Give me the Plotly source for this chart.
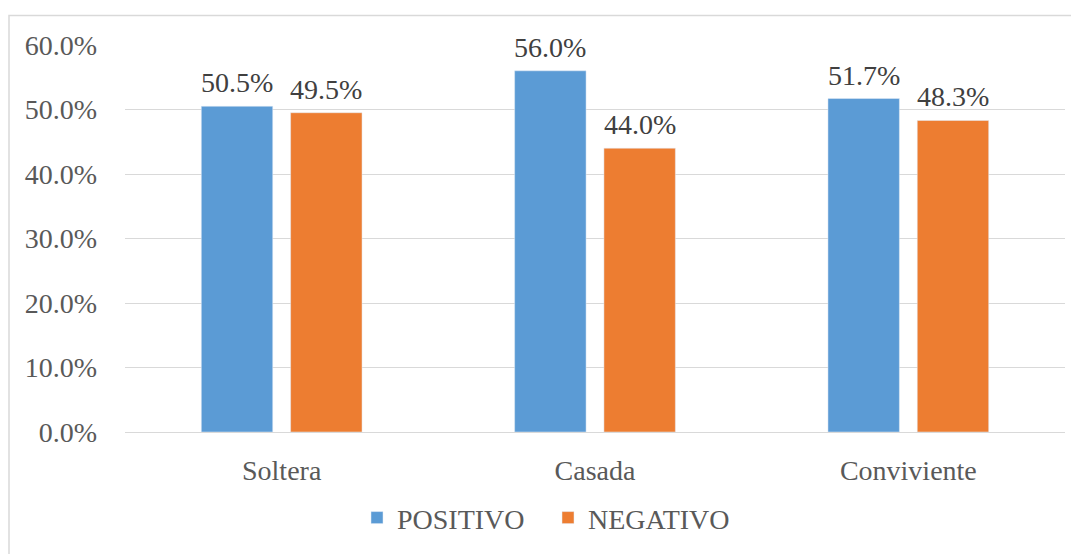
import plotly.graph_objects as go

categories = ["Soltera", "Casada", "Conviviente"]
positivo = [50.5, 56.0, 51.7]
negativo = [49.5, 44.0, 48.3]
series_names = ["POSITIVO", "NEGATIVO"]
y_ticks = [0, 10, 20, 30, 40, 50, 60]
y_tick_labels = ["0.0%", "10.0%", "20.0%", "30.0%", "40.0%", "50.0%", "60.0%"]

FONT = "Liberation Serif"
TXT = "#595959"
BLUE = "#5B9BD5"
ORANGE = "#ED7D31"

# page body has an 8px margin; layout below is expressed in page coords
OFF = 8
W, H = 1079, 554
L, T = 125 - OFF, 44.5 - OFF
R = W - (1065 - OFF)
B = H - (432 - OFF)
plot_w = W - L - R
plot_h = H - T - B


def px_to_paper_x(img_x):
    return (img_x - OFF - L) / plot_w


def px_to_paper_y(img_y):
    return (H - B - (img_y - OFF)) / plot_h


fig = go.Figure()
fig.add_trace(go.Bar(x=categories, y=positivo, name=series_names[0], marker_color=BLUE))
fig.add_trace(go.Bar(x=categories, y=negativo, name=series_names[1], marker_color=ORANGE))

cat_w = plot_w / len(categories)
bargap = 0.43
slot = cat_w * (1 - bargap) / 2
for vals, sign in ((positivo, -1), (negativo, 1)):
    for c, v in zip(categories, vals):
        fig.add_annotation(x=c, y=v, text=f"{v:.1f}%", showarrow=False,
                           xanchor="center", yanchor="bottom",
                           xshift=sign * slot / 2, yshift=6,
                           font=dict(family=FONT, size=28, color="#404040"))

fig.add_shape(type="rect", xref="paper", yref="paper",
              x0=px_to_paper_x(OFF + 1), x1=px_to_paper_x(W + 20),
              y0=px_to_paper_y(H + 20), y1=px_to_paper_y(15),
              line=dict(color="#d9d9d9", width=1.5), layer="below")

fig.update_layout(
    width=W, height=H,
    margin=dict(l=L, r=R, t=T, b=B, autoexpand=False),
    paper_bgcolor="white", plot_bgcolor="white",
    font=dict(family=FONT, size=28, color=TXT),
    barmode="group", bargap=bargap, bargroupgap=0.2,
    showlegend=True,
    legend=dict(orientation="h", x=px_to_paper_x(548), xanchor="center",
                y=px_to_paper_y(518), yanchor="middle",
                font=dict(family=FONT, size=28, color=TXT),
                entrywidth=146),
    xaxis=dict(showgrid=False, showline=False, ticks="", automargin=False,
               tickfont=dict(family=FONT, size=28, color=TXT),
               ticklabelstandoff=19),
    yaxis=dict(range=[0, 60], tickvals=y_ticks, ticktext=y_tick_labels,
               showgrid=True, gridcolor="#d9d9d9", gridwidth=1.3,
               zeroline=True, zerolinecolor="#d9d9d9", zerolinewidth=1.3,
               showline=False, ticks="", automargin=False,
               tickfont=dict(family=FONT, size=28, color=TXT),
               ticklabelstandoff=27),
)

fig.write_html("out.html")
